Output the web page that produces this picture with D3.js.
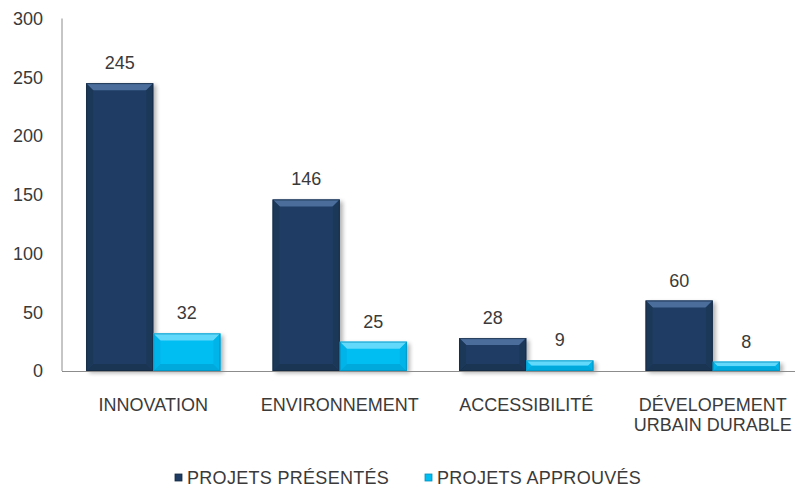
<!DOCTYPE html>
<html><head><meta charset="utf-8">
<script src="https://cdn.jsdelivr.net/npm/d3@7"></script>
<style>
html,body{margin:0;padding:0;background:#fff;}
svg{display:block;font-family:"Liberation Sans",Arial,sans-serif;}
</style></head>
<body><svg id="c" width="795" height="488"></svg>
<script>
const categories = [["INNOVATION"],["ENVIRONNEMENT"],["ACCESSIBILITÉ"],["DÉVELOPEMENT","URBAIN DURABLE"]];
const presentes = [245,146,28,60];
const approuves = [32,25,9,8];
const seriesNames = ["PROJETS PRÉSENTÉS","PROJETS APPROUVÉS"];
const yTicks = [0,50,100,150,200,250,300];

const svg = d3.select("#c");
const defs = svg.append("defs");
const f = defs.append("filter").attr("id","sh").attr("x","-20%").attr("y","-20%").attr("width","150%").attr("height","150%");
f.append("feGaussianBlur").attr("stdDeviation",2);

const x0 = d3.scaleBand().domain(d3.range(categories.length)).range([60,806]).paddingInner(0.28).paddingOuter(0.14);
const x1 = d3.scaleBand().domain([0,1]).range([0,x0.bandwidth()]);
const y = d3.scaleLinear().domain([0,300]).range([371,18.5]);

const txtCol = "#3a3a3a";
const fs = "18px";

// y axis
const yAx = svg.append("g").attr("transform","translate(62,0)")
  .call(d3.axisLeft(y).tickValues(yTicks).tickSize(0).tickPadding(19));
yAx.select(".domain").attr("stroke","#8c8c8c").attr("d","M0,"+y(300)+"V"+y(0));
yAx.selectAll("text").attr("font-size",fs).attr("fill",txtCol).attr("font-family","Liberation Sans, Arial, sans-serif");

const series = [
  {vals:presentes, main:"#1f3d64", light:"#4a6d9c", dark:"#1a3454", side:"#1c3859", edge:"#15293f"},
  {vals:approuves, main:"#00bdf2", light:"#62d8fa", dark:"#00a9dc", side:"#00b3e8", edge:"#0090be"}
];

const bev = 7;
series.forEach((s,si)=>{
  s.vals.forEach((v,i)=>{
    const bx = x0(i)+x1(si), bw = x1.bandwidth(), by = y(v), bh = y(0)-y(v);
    const g = svg.append("g");
    g.append("rect").attr("x",bx+3).attr("y",by+2).attr("width",bw).attr("height",bh)
      .attr("fill","#000").attr("opacity",0.3).attr("filter","url(#sh)");
    g.append("rect").attr("x",bx).attr("y",by).attr("width",bw).attr("height",bh).attr("fill",s.main);
    const b = Math.min(bev, bh/2);
    g.append("polygon").attr("points",[[bx,by],[bx+bw,by],[bx+bw-b,by+b],[bx+b,by+b]].join(" ")).attr("fill",s.light);
    g.append("polygon").attr("points",[[bx,by+bh],[bx+bw,by+bh],[bx+bw-b,by+bh-b],[bx+b,by+bh-b]].join(" ")).attr("fill",s.dark);
    g.append("polygon").attr("points",[[bx,by],[bx+b,by+b],[bx+b,by+bh-b],[bx,by+bh]].join(" ")).attr("fill",s.side);
    g.append("polygon").attr("points",[[bx+bw,by],[bx+bw-b,by+b],[bx+bw-b,by+bh-b],[bx+bw,by+bh]].join(" ")).attr("fill",s.side);
    g.append("rect").attr("x",bx+0.5).attr("y",by+0.5).attr("width",bw-1).attr("height",bh-1).attr("fill","none").attr("stroke",s.edge).attr("stroke-width",1).attr("opacity",0.7);
    svg.append("text").attr("x",bx+bw/2).attr("y",by-14).attr("text-anchor","middle")
      .attr("font-size",fs).attr("fill",txtCol).text(v);
  });
});

// x axis line
svg.append("line").attr("x1",62).attr("x2",795).attr("y1",371.5).attr("y2",371.5).attr("stroke","#8c8c8c");

// category labels
categories.forEach((c,i)=>{
  const cx = x0(i)+x0.bandwidth()/2;
  c.forEach((line,li)=>{
    svg.append("text").attr("x",cx).attr("y",411+li*20).attr("text-anchor","middle")
      .attr("font-size",fs).attr("fill",txtCol).text(line);
  });
});

// legend
const legX = [175,425];
seriesNames.forEach((n,i)=>{
  svg.append("rect").attr("x",legX[i]).attr("y",474).attr("width",7).attr("height",7)
    .attr("fill",series[i].main).attr("stroke",series[i].edge).attr("stroke-width",0.8);
  svg.append("text").attr("x",legX[i]+12).attr("y",484).attr("font-size",fs).attr("fill",txtCol)
    .attr("letter-spacing","0.3px").text(n);
});
</script></body></html>
